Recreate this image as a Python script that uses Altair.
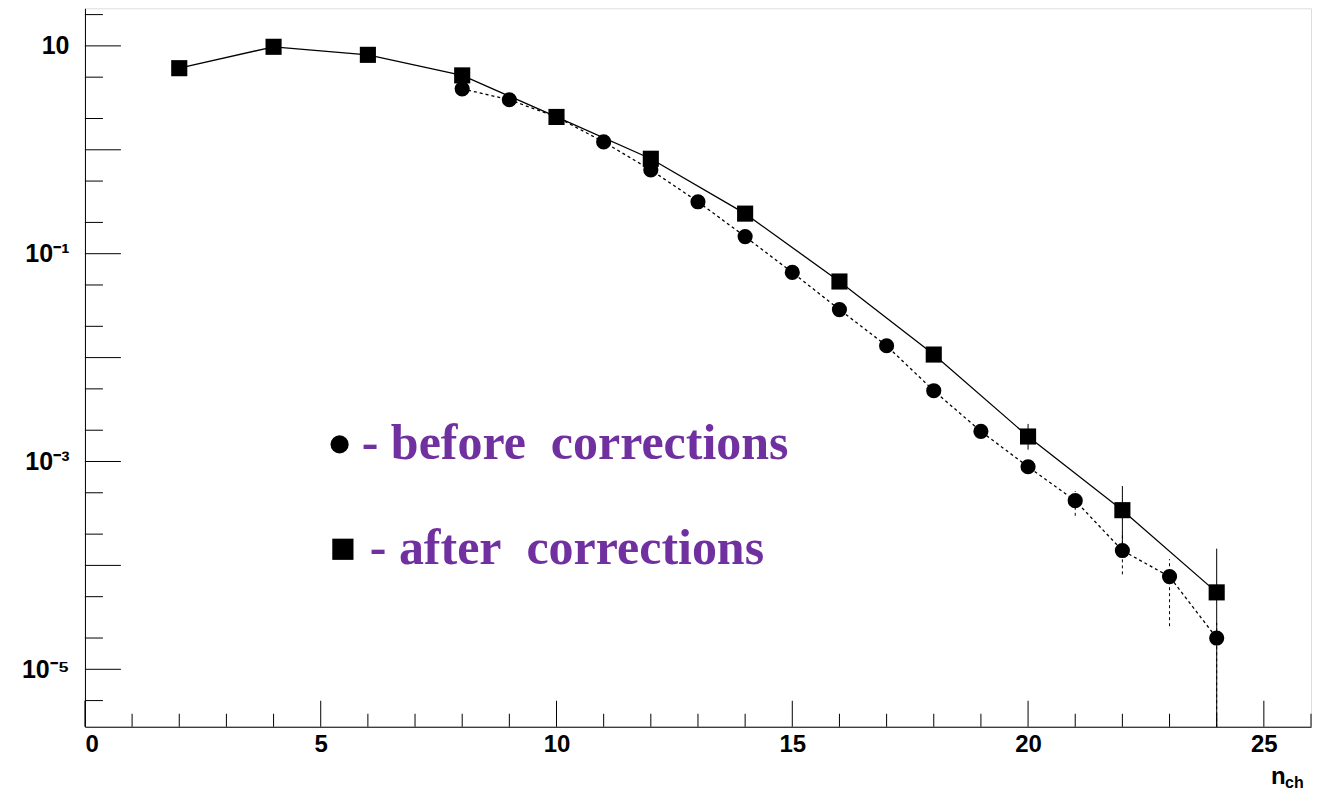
import altair as alt
import pandas as pd

# after corrections (squares)
n_after = [2, 4, 6, 8, 10, 12, 14, 16, 18, 20, 22, 24]
p_after = [6.1, 9.8, 8.2, 5.2, 2.07, 0.82, 0.243, 0.054, 0.0107, 1.74e-3, 3.4e-4, 5.5e-5]
err_after_lo = [None] * 9 + [1.3e-3, 1.2e-4, 1e-7]
err_after_hi = [None] * 9 + [2.3e-3, 5.8e-4, 1.45e-4]

# before corrections (circles)
n_before = [8, 9, 10, 11, 12, 13, 14, 15, 16, 17, 18, 19, 20, 21, 22, 23, 24]
p_before = [3.86, 3.03, 2.07, 1.19, 0.64, 0.316, 0.146, 0.066, 0.029, 0.013,
            4.8e-3, 1.95e-3, 8.9e-4, 4.2e-4, 1.39e-4, 7.8e-5, 2.0e-5]
err_before_lo = [None] * 13 + [3.0e-4, 8.2e-5, 2.6e-5, 1e-7]
err_before_hi = [None] * 13 + [5.2e-4, 2.1e-4, 1.15e-4, 2.8e-5]

x_ticks = list(range(0, 27))
y_ticks = [10, 1, 0.1, 0.01, 1e-3, 1e-4, 1e-5]

after = pd.DataFrame({"n": n_after, "p": p_after, "lo": err_after_lo, "hi": err_after_hi})
before = pd.DataFrame({"n": n_before, "p": p_before, "lo": err_before_lo, "hi": err_before_hi})

W, H = 1227, 719
xs = alt.Scale(domain=[0, 26.0], nice=False)
ys = alt.Scale(type="log", domain=[2.8e-6, 23], nice=False)

lab = ("datum.value == 10 ? '10' : datum.value == 0.1 ? '10⁻¹' : "
       "abs(datum.value - 0.001) < 1e-9 ? '10⁻³' : abs(datum.value - 0.00001) < 1e-11 ? '10⁻⁵' : ''")

X = alt.X("n:Q", scale=xs, title=None,
          axis=alt.Axis(values=x_ticks, labelExpr="datum.value % 5 == 0 ? datum.label : ''",
                        grid=False, tickSize=0, labelFont="Liberation Sans", labelFontWeight="bold",
                        labelFontSize=24, labelColor="black", domainColor="black", labelPadding=6))
Y = alt.Y("p:Q", scale=ys, title=None,
          axis=alt.Axis(values=y_ticks, labelExpr=lab, grid=False, tickSize=0,
                        labelFont="Liberation Sans", labelFontWeight="bold", labelFontSize=25,
                        labelColor="black", domainColor="black", labelPadding=16))

line_a = alt.Chart(after).mark_line(color="black", strokeWidth=1.3).encode(x=X, y=Y)
pts_a = alt.Chart(after).mark_square(color="black", opacity=1, size=260).encode(x="n:Q", y="p:Q")
err_a = alt.Chart(after.dropna()).mark_rule(color="black", clip=True).encode(x="n:Q", y="lo:Q", y2="hi:Q")

line_b = alt.Chart(before).mark_line(color="black", strokeWidth=1.3, strokeDash=[3, 3]).encode(x="n:Q", y="p:Q")
pts_b = alt.Chart(before).mark_circle(color="black", opacity=1, size=230).encode(x="n:Q", y="p:Q")
err_b = alt.Chart(before.dropna()).mark_rule(color="black", strokeDash=[3, 3], clip=True).encode(
    x="n:Q", y="lo:Q", y2="hi:Q")

# inward ticks
xt = pd.DataFrame({"n": x_ticks, "big": [v % 5 == 0 for v in x_ticks]})
xtick_big = alt.Chart(xt[xt.big]).mark_rule(color="black").encode(
    x="n:Q", y=alt.value(H), y2=alt.value(H - 26))
xtick_small = alt.Chart(xt[~xt.big]).mark_rule(color="black").encode(
    x="n:Q", y=alt.value(H), y2=alt.value(H - 13))
minor = []
for d in [10, 1, 0.1, 0.01, 1e-3, 1e-4, 1e-5, 1e-6]:
    for m in [2, 5]:
        v = d * m
        if 2.8e-6 <= v <= 23:
            minor.append(v)
yt_big = alt.Chart(pd.DataFrame({"p": y_ticks})).mark_rule(color="black").encode(
    y="p:Q", x=alt.value(0), x2=alt.value(36))
yt_small = alt.Chart(pd.DataFrame({"p": minor})).mark_rule(color="black").encode(
    y="p:Q", x=alt.value(0), x2=alt.value(18))

leg_sym = pd.DataFrame({"n": [5.4], "p": [1.46e-3]})
leg_sq = pd.DataFrame({"n": [5.47], "p": [1.43e-4]})
leg_c = alt.Chart(leg_sym).mark_circle(color="black", opacity=1, size=330).encode(x="n:Q", y="p:Q")
leg_s = alt.Chart(leg_sq).mark_square(color="black", opacity=1, size=450).encode(x="n:Q", y="p:Q")
leg_text = pd.DataFrame({"n": [5.87, 6.04], "p": [1.46e-3, 1.43e-4],
                         "t": ["- before\u00a0\u00a0corrections", "- after\u00a0\u00a0corrections"]})
leg_t = alt.Chart(leg_text).mark_text(
    align="left", baseline="middle", font="Liberation Serif", fontWeight="bold",
    fontSize=50, color="#7030A0").encode(x="n:Q", y="p:Q", text="t:N")

title_n = alt.Chart(pd.DataFrame({"t": ["n"]})).mark_text(
    align="left", font="Liberation Sans", fontWeight="bold", fontSize=24, color="black").encode(
    x=alt.value(1187), y=alt.value(H + 50), text="t:N")
title_ch = alt.Chart(pd.DataFrame({"t": ["ch"]})).mark_text(
    align="left", font="Liberation Sans", fontWeight="bold", fontSize=16, color="black").encode(
    x=alt.value(1201), y=alt.value(H + 56), text="t:N")

chart = alt.layer(
    line_a, line_b, err_a, err_b, pts_a, pts_b,
    xtick_big, xtick_small, yt_big, yt_small,
    leg_c, leg_s, leg_t, title_n, title_ch,
).properties(
    width=W, height=H,
    padding={"left": 13, "top": 0, "right": 0, "bottom": 0},
).configure_view(stroke="black", strokeWidth=1.5).configure(background="white")

chart.save("out.html", embed_options={"renderer": "svg", "actions": False})
